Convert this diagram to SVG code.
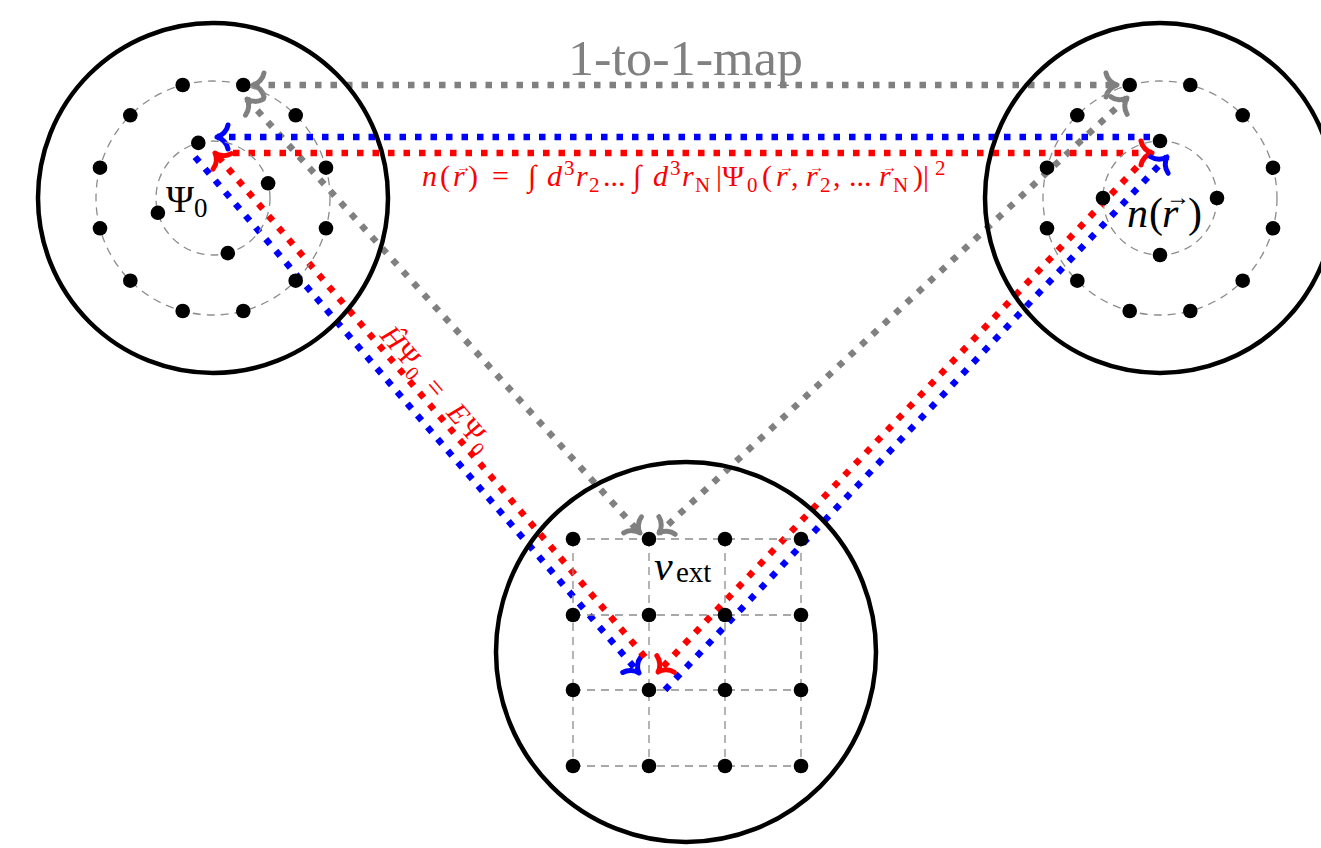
<svg xmlns="http://www.w3.org/2000/svg" width="1321" height="848" viewBox="0 0 1321 848">
<defs>
<style>
.big{fill:none;stroke:#000;stroke-width:4.5}
.guide{fill:none;stroke:#8c8c8c;stroke-width:1.3;stroke-dasharray:8 6}
.dot{fill:#000}
.conn{fill:none;stroke-width:6.5;stroke-dasharray:6.5 9}
.blue{stroke:#0000ff}
.red{stroke:#ff0000}
.gray{stroke:#808080}
.head{fill:none;stroke-width:5;stroke-linecap:round;stroke-linejoin:round;stroke-dasharray:none}
.math{font-family:"Liberation Serif","DejaVu Serif",serif}
.it{font-style:italic}
</style>
<marker id="hb" markerUnits="userSpaceOnUse" viewBox="-16 -16 20 32" markerWidth="20" markerHeight="32" refX="0" refY="0" orient="auto" overflow="visible">
<path class="head" stroke="#0000ff" d="M-11,-12 C-10,-6 -5,-1.2 0,0 C-5,1.2 -10,6 -11,12"/>
</marker>
<marker id="hr" markerUnits="userSpaceOnUse" viewBox="-16 -16 20 32" markerWidth="20" markerHeight="32" refX="0" refY="0" orient="auto" overflow="visible">
<path class="head" stroke="#ff0000" d="M-11,-12 C-10,-6 -5,-1.2 0,0 C-5,1.2 -10,6 -11,12"/>
</marker>
<marker id="hg" markerUnits="userSpaceOnUse" viewBox="-16 -16 20 32" markerWidth="20" markerHeight="32" refX="0" refY="0" orient="auto-start-reverse" overflow="visible">
<path class="head" stroke="#808080" d="M-11,-12 C-10,-6 -5,-1.2 0,0 C-5,1.2 -10,6 -11,12"/>
</marker>
</defs>
<rect width="1321" height="848" fill="#fff"/>

<g id="connectors">
<line class="conn gray" x1="253" y1="85" x2="1117" y2="85" marker-start="url(#hg)" marker-end="url(#hg)"/>
<line class="conn gray" x1="247" y1="99" x2="640" y2="533" marker-start="url(#hg)" marker-end="url(#hg)"/>
<line class="conn gray" x1="1127" y1="98" x2="659" y2="533" marker-start="url(#hg)" marker-end="url(#hg)"/>
<line class="conn blue" x1="1150" y1="137" x2="217" y2="137" marker-end="url(#hb)"/>
<line class="conn red" x1="233" y1="153" x2="1152" y2="153" marker-end="url(#hr)"/>
<line class="conn blue" x1="195" y1="157" x2="639" y2="673" marker-end="url(#hb)"/>
<line class="conn red" x1="645" y1="657" x2="215" y2="153" marker-end="url(#hr)"/>
<line class="conn blue" x1="665" y1="690" x2="1167" y2="157" marker-end="url(#hb)"/>
<line class="conn red" x1="1137" y1="167" x2="658" y2="672" marker-end="url(#hr)"/>
<text class="math" x="568" y="75" font-size="50" fill="#808080" textLength="235" lengthAdjust="spacingAndGlyphs">1-to-1-map</text>
<g fill="#ff0000">
<text class="math" font-size="30"><tspan class="it" x="422" y="186">n</tspan><tspan x="440" y="186">(</tspan><tspan class="it" x="453" y="186">r</tspan><tspan font-size="15" x="456" y="172">→</tspan><tspan x="468" y="186">)</tspan><tspan x="492" y="186">=</tspan><tspan x="528" y="186">∫</tspan><tspan class="it" x="547" y="186">d</tspan><tspan font-size="21" x="564" y="175">3</tspan><tspan class="it" x="576" y="186">r</tspan><tspan font-size="21" x="589" y="192">2</tspan><tspan x="603" y="186">...</tspan><tspan x="633" y="186">∫</tspan><tspan class="it" x="653" y="186">d</tspan><tspan font-size="21" x="670" y="175">3</tspan><tspan class="it" x="682" y="186">r</tspan><tspan font-size="21" x="695" y="192">N</tspan><tspan x="716" y="186">|Ψ</tspan><tspan font-size="21" x="747" y="192">0</tspan><tspan x="762" y="186">(</tspan><tspan class="it" x="776" y="186">r</tspan><tspan font-size="15" x="779" y="172">→</tspan><tspan x="791" y="186">,</tspan><tspan class="it" x="806" y="186">r</tspan><tspan font-size="15" x="809" y="172">→</tspan><tspan font-size="21" x="820" y="192">2</tspan><tspan x="833" y="186">,</tspan><tspan x="849" y="186">...</tspan><tspan class="it" x="879" y="186">r</tspan><tspan font-size="15" x="882" y="172">→</tspan><tspan font-size="21" x="893" y="192">N</tspan><tspan x="913" y="186">)|</tspan><tspan font-size="21" x="935" y="175">2</tspan></text>
<text class="math" transform="translate(379,336) rotate(49.3)" font-size="29"><tspan class="it" x="0" y="0">Ĥ</tspan><tspan x="22" y="0">Ψ</tspan><tspan font-size="20" x="45" y="6">0</tspan><tspan x="68" y="0">=</tspan><tspan class="it" x="102" y="0">E</tspan><tspan x="122" y="0">Ψ</tspan><tspan font-size="20" x="145" y="6">0</tspan></text>
</g>
</g>

<g id="node-psi">
<circle class="big" cx="213" cy="198" r="175"/>
<circle class="guide" cx="213" cy="198" r="117"/>
<circle class="guide" cx="213" cy="198" r="57"/>
<g class="dot">
<circle cx="243.3" cy="85" r="7.3"/><circle cx="295.7" cy="115.3" r="7.3"/><circle cx="326" cy="167.7" r="7.3"/><circle cx="326" cy="228.3" r="7.3"/><circle cx="295.7" cy="280.7" r="7.3"/><circle cx="243.3" cy="311" r="7.3"/><circle cx="182.7" cy="311" r="7.3"/><circle cx="130.3" cy="280.7" r="7.3"/><circle cx="100" cy="228.3" r="7.3"/><circle cx="100" cy="167.7" r="7.3"/><circle cx="130.3" cy="115.3" r="7.3"/><circle cx="182.7" cy="85" r="7.3"/>
<circle cx="198.3" cy="142.9" r="7.3"/><circle cx="268.1" cy="183.3" r="7.3"/><circle cx="227.8" cy="253.1" r="7.3"/><circle cx="157.9" cy="212.8" r="7.3"/>
</g>
<text class="math" x="166" y="212" font-size="38" fill="#000">Ψ<tspan font-size="27" dy="5">0</tspan></text>
</g>

<g id="node-density">
<circle class="big" cx="1160" cy="198" r="175"/>
<circle class="guide" cx="1160" cy="198" r="117"/>
<circle class="guide" cx="1160" cy="198" r="57"/>
<g class="dot">
<circle cx="1190.3" cy="85" r="7.3"/><circle cx="1242.7" cy="115.3" r="7.3"/><circle cx="1273" cy="167.7" r="7.3"/><circle cx="1273" cy="228.3" r="7.3"/><circle cx="1242.7" cy="280.7" r="7.3"/><circle cx="1190.3" cy="311" r="7.3"/><circle cx="1129.7" cy="311" r="7.3"/><circle cx="1077.3" cy="280.7" r="7.3"/><circle cx="1047" cy="228.3" r="7.3"/><circle cx="1047" cy="167.7" r="7.3"/><circle cx="1077.3" cy="115.3" r="7.3"/><circle cx="1129.7" cy="85" r="7.3"/>
<circle cx="1160" cy="141" r="7.3"/><circle cx="1217" cy="198" r="7.3"/><circle cx="1160" cy="255" r="7.3"/><circle cx="1103" cy="198" r="7.3"/>
</g>
<text class="math" font-size="42" fill="#000"><tspan class="it" x="1127" y="227">n</tspan><tspan x="1149" y="227">(</tspan><tspan class="it" x="1162" y="227">r</tspan><tspan font-size="24" x="1166" y="205">→</tspan><tspan x="1188" y="227">)</tspan></text>
</g>

<g id="node-vext">
<circle class="big" cx="686" cy="652" r="190"/>
<path class="guide" d="M573,539H801M573,615H801M573,690H801M573,766H801M573,539V766M649,539V766M725,539V766M801,539V766"/>
<g class="dot">
<circle cx="573" cy="539" r="7.3"/><circle cx="649" cy="539" r="7.3"/><circle cx="725" cy="539" r="7.3"/><circle cx="801" cy="539" r="7.3"/>
<circle cx="573" cy="615" r="7.3"/><circle cx="649" cy="615" r="7.3"/><circle cx="725" cy="615" r="7.3"/><circle cx="801" cy="615" r="7.3"/>
<circle cx="573" cy="690" r="7.3"/><circle cx="649" cy="690" r="7.3"/><circle cx="725" cy="690" r="7.3"/><circle cx="801" cy="690" r="7.3"/>
<circle cx="573" cy="766" r="7.3"/><circle cx="649" cy="766" r="7.3"/><circle cx="725" cy="766" r="7.3"/><circle cx="801" cy="766" r="7.3"/>
</g>
<text class="math" font-size="42" fill="#000"><tspan class="it" x="654" y="580">v</tspan><tspan font-size="29" x="676" y="582">ext</tspan></text>
</g>
</svg>
